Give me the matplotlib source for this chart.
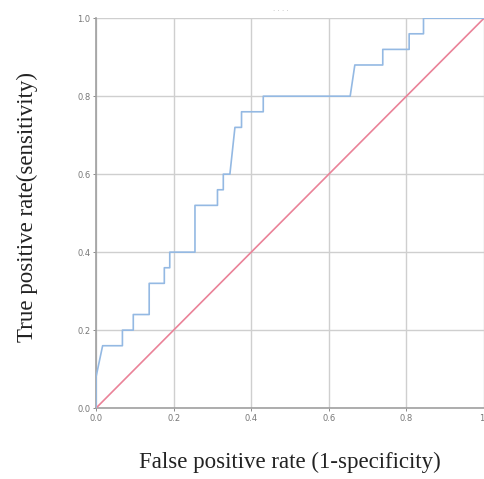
import numpy as np
import matplotlib
matplotlib.use("Agg")
import matplotlib.pyplot as plt

# ROC curve points (false positive rate, true positive rate)
fpr = [0.0, 0.0, 0.017, 0.068, 0.068, 0.096, 0.096, 0.137, 0.137, 0.176, 0.176,
       0.19, 0.19, 0.255, 0.255, 0.313, 0.313, 0.328, 0.328, 0.345, 0.358,
       0.375, 0.375, 0.431, 0.431, 0.655, 0.667, 0.739, 0.739, 0.807, 0.807,
       0.844, 0.844, 1.0]
tpr = [0.0, 0.08, 0.16, 0.16, 0.20, 0.20, 0.24, 0.24, 0.32, 0.32, 0.36,
       0.36, 0.40, 0.40, 0.52, 0.52, 0.56, 0.56, 0.60, 0.60, 0.72,
       0.72, 0.76, 0.76, 0.80, 0.80, 0.88, 0.88, 0.92, 0.92, 0.96,
       0.96, 1.0, 1.0]
ref_line = [0.0, 1.0]

x_ticks = [0.0, 0.2, 0.4, 0.6, 0.8, 1.0]
x_tick_labels = ["0.0", "0.2", "0.4", "0.6", "0.8", "1"]
y_ticks = [0.0, 0.2, 0.4, 0.6, 0.8, 1.0]
y_tick_labels = ["0.0", "0.2", "0.4", "0.6", "0.8", "1.0"]

fig = plt.figure(figsize=(4.85, 4.79), dpi=100)
ax = fig.add_axes([0.198, 0.148, 0.800, 0.814])

ax.plot(ref_line, ref_line, color="#ea8298", lw=1.2, zorder=3)
ax.plot(fpr, tpr, color="#94b9e3", lw=1.2, zorder=4)

ax.set_xlim(0, 1)
ax.set_ylim(0, 1)
ax.set_xticks(x_ticks)
ax.set_xticklabels(x_tick_labels)
ax.set_yticks(y_ticks)
ax.set_yticklabels(y_tick_labels)
ax.tick_params(labelsize=6, colors="#777777", length=2, width=0.6, pad=2)
ax.get_xticklabels()[-1].set_horizontalalignment("right")
ax.grid(True, color="#cfcfcf", lw=1.0)

for side in ["top", "right"]:
    ax.spines[side].set_visible(False)
for side in ["left", "bottom"]:
    ax.spines[side].set_color("#a0a0a0")
    ax.spines[side].set_linewidth(1.2)

ax.set_xlabel("False positive rate (1-specificity)", fontfamily="Liberation Serif",
              fontsize=16.5, color="#222222")
ax.set_ylabel("True positive rate(sensitivity)", fontfamily="Liberation Serif",
              fontsize=16.5, color="#222222")
ax.xaxis.set_label_coords(0.5, -0.112)
ax.yaxis.set_label_coords(-0.15, 0.515)

# faint placeholder title at the top
fig.text(0.58, 0.982, ". . . .", fontsize=5, color="#bbbbbb", ha="center", va="center")

fig.savefig("out.png", dpi=100)
